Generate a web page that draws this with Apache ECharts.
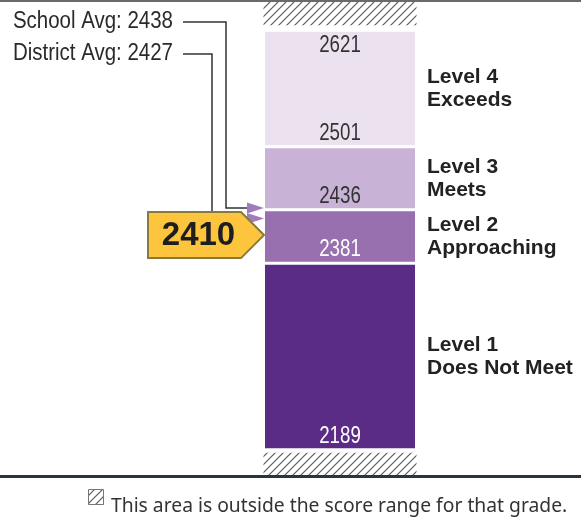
<!DOCTYPE html>
<html>
<head>
<meta charset="utf-8">
<script src="https://cdn.jsdelivr.net/npm/echarts@6/dist/echarts.min.js"></script>
<style>
html,body{margin:0;padding:0;background:#fff;}
#chart{width:581px;height:517px;}
</style>
</head>
<body>
<div id="chart"></div>
<script>
// ---- data ----
const levelNames = ['Level 1', 'Level 2', 'Level 3', 'Level 4'];
const levelDescs = ['Does Not Meet', 'Approaching', 'Meets', 'Exceeds'];
const levelCutoffs = [2189, 2381, 2436, 2501, 2621];
const axisRange = [2163, 2650];
const studentScore = 2410;
const avgLabels = ['School Avg', 'District Avg'];
const avgValues = [2438, 2427];
const legendText = 'This area is outside the score range for that grade.';

// ---- styles ----
const bandColors = ['#5b2c86', '#9870b0', '#c8b2d6', '#ece2ef'];
const valueTextColors = ['#ffffff', '#ffffff', '#333333', '#333333'];
const sansFont = '"Liberation Sans", Arial, sans-serif';

function makeHatch() {
  const c = document.createElement('canvas');
  c.width = 8; c.height = 8;
  const ctx = c.getContext('2d');
  ctx.fillStyle = '#ffffff';
  ctx.fillRect(0, 0, 8, 8);
  ctx.strokeStyle = '#5a5a5a';
  ctx.lineWidth = 1.2;
  ctx.beginPath();
  ctx.moveTo(-1, 9); ctx.lineTo(9, -1);
  ctx.moveTo(-1, 1); ctx.lineTo(1, -1);
  ctx.moveTo(7, 9); ctx.lineTo(9, 7);
  ctx.stroke();
  return c;
}
const hatch = { image: makeHatch(), repeat: 'repeat' };

const bandData = levelNames.map((n, i) => [levelCutoffs[i], levelCutoffs[i + 1], i]);
const hatchData = [
  [levelCutoffs[levelCutoffs.length - 1], axisRange[1], 0],
  [axisRange[0], levelCutoffs[0], 1]
];

const chart = echarts.init(document.getElementById('chart'), null, { renderer: 'canvas' });

const option = {
  animation: false,
  backgroundColor: '#ffffff',
  grid: { left: 265, right: 166, top: 2, bottom: 42 },
  xAxis: { type: 'value', min: 0, max: 1, show: false },
  yAxis: { type: 'value', min: axisRange[0], max: axisRange[1], show: false },
  graphic: [
    { type: 'rect', shape: { x: 0, y: 0, width: 581, height: 2 }, style: { fill: '#676b6f' }, z: 100 },
    { type: 'rect', shape: { x: 0, y: 475, width: 581, height: 3 }, style: { fill: '#2b333b' }, z: 100 },
    { type: 'rect', shape: { x: 88.5, y: 489.5, width: 15, height: 15 }, style: { fill: hatch, stroke: '#777', lineWidth: 1 } },
    { type: 'text', x: 111, y: 507, style: { text: legendText, font: '19.3px "Noto Sans", sans-serif', fill: '#333', textVerticalAlign: 'middle' } }
  ],
  series: [
    {
      type: 'custom',
      data: hatchData,
      silent: true,
      renderItem: function (params, api) {
        const lo = api.value(0), hi = api.value(1), which = api.value(2);
        const pTop = api.coord([0, hi]);
        const pBot = api.coord([1, lo]);
        let y0 = pTop[1], y1 = pBot[1];
        if (which === 0) { y1 -= 5; } else { y0 += 3; }
        return {
          type: 'rect',
          shape: { x: pTop[0] - 1.5, y: y0, width: pBot[0] - pTop[0] + 3, height: y1 - y0 },
          style: { fill: hatch }
        };
      }
    },
    {
      type: 'custom',
      data: bandData,
      silent: true,
      renderItem: function (params, api) {
        const lo = api.value(0), hi = api.value(1), i = api.value(2);
        const pTop = api.coord([0, hi]);
        const pBot = api.coord([1, lo]);
        const x0 = pTop[0], x1 = pBot[0];
        const y0 = pTop[1] + 1.5, y1 = pBot[1] - 1.5;
        const xc = (x0 + x1) / 2;
        const children = [
          { type: 'rect', shape: { x: x0, y: y0, width: x1 - x0, height: y1 - y0 }, style: { fill: bandColors[i] } },
          { type: 'text', x: xc, y: y1 - 12, scaleX: 0.78, style: { text: String(lo), font: '24px ' + sansFont, fill: valueTextColors[i], textAlign: 'center', textVerticalAlign: 'middle' } },
          { type: 'text', x: x1 + 12, y: (y0 + y1) / 2, style: { text: levelNames[i] + '\n' + levelDescs[i], font: 'bold 21px ' + sansFont, lineHeight: 23, fill: '#222', textAlign: 'left', textVerticalAlign: 'middle' } }
        ];
        if (i === levelNames.length - 1) {
          children.push({ type: 'text', x: xc, y: y0 + 14, scaleX: 0.78, style: { text: String(hi), font: '24px ' + sansFont, fill: valueTextColors[i], textAlign: 'center', textVerticalAlign: 'middle' } });
        }
        return { type: 'group', children: children };
      }
    },
    {
      type: 'custom',
      data: avgValues.map((v, i) => [0, v, i]),
      silent: true,
      renderItem: function (params, api) {
        const v = api.value(1), i = api.value(2);
        const p = api.coord([0, v]);
        const labelY = [22, 54][i];
        const vx = [226, 212][i];
        const tipX = p[0] - 1;
        const baseX = tipX - 17;
        const y = p[1];
        return {
          type: 'group',
          children: [
            { type: 'text', x: 173, y: labelY, scaleX: 0.89, style: { text: avgLabels[i] + ': ' + v, font: '23px ' + sansFont, fill: '#2a2a2a', textAlign: 'right', textVerticalAlign: 'middle' } },
            { type: 'polyline', shape: { points: [[183, labelY], [vx, labelY], [vx, y], [baseX, y]] }, style: { stroke: '#333', lineWidth: 1.5, fill: null } },
            { type: 'polygon', shape: { points: [[baseX, y - 5.5], [tipX, y], [baseX, y + 5.5]] }, style: { fill: '#a07bbf' } }
          ]
        };
      }
    },
    {
      type: 'custom',
      data: [[0, studentScore]],
      silent: true,
      renderItem: function (params, api) {
        const v = api.value(1);
        const p = api.coord([0, v]);
        const tipX = p[0] - 1, y = p[1];
        const h = 23;
        const bodyR = tipX - 23, left = 148;
        return {
          type: 'group',
          children: [
            { type: 'polygon', shape: { points: [[left, y - h], [bodyR, y - h], [tipX, y], [bodyR, y + h], [left, y + h]] }, style: { fill: '#fdc43e', stroke: '#867a3c', lineWidth: 2 } },
            { type: 'text', x: (left + bodyR) / 2 + 4, y: y + 1, style: { text: String(v), font: 'bold 33px ' + sansFont, fill: '#1e1e1e', textAlign: 'center', textVerticalAlign: 'middle' } }
          ]
        };
      }
    }
  ]
};
chart.setOption(option);
</script>
</body>
</html>
